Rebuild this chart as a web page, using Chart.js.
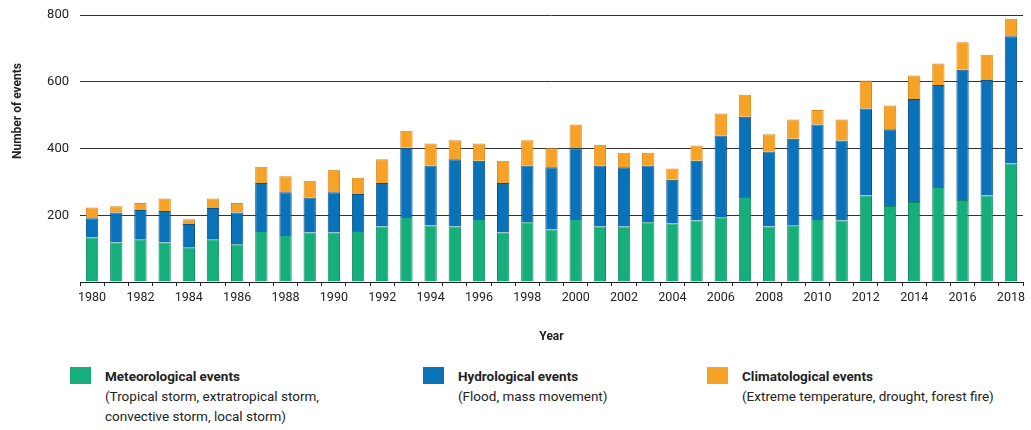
<!DOCTYPE html>
<html>
<head>
<meta charset="utf-8">
<script src="https://cdn.jsdelivr.net/npm/chart.js@4/dist/chart.umd.min.js"></script>
<style>
  body { margin: 0; background: #fff; font-family: Roboto, "Liberation Sans", sans-serif; color: #222; }
  #wrap { position: relative; width: 1031px; height: 430px; }
  #chart-box { position: absolute; left: 0; top: 0; width: 1031px; height: 350px; }
  .leg { position: absolute; top: 366px; }
  .leg .sw { position: absolute; left: 0; top: 1px; width: 21px; height: 17px; }
  .leg .txt { position: absolute; left: 35px; top: 0; white-space: nowrap; font-size: 13.5px; line-height: 20px; }
  .leg .txt b { font-weight: 700; }
</style>
</head>
<body>
<div id="wrap">
  <div id="chart-box"><canvas id="bar-chart" width="1031" height="350"></canvas></div>
  <div id="legend"></div>
</div>
<script>
// Years on the x axis
var years = ["1980", "1981", "1982", "1983", "1984", "1985", "1986", "1987", "1988", "1989",
    "1990", "1991", "1992", "1993", "1994", "1995", "1996", "1997", "1998", "1999",
    "2000", "2001", "2002", "2003", "2004", "2005", "2006", "2007", "2008", "2009",
    "2010", "2011", "2012", "2013", "2014", "2015", "2016", "2017", "2018"];

// Number of events per year, by type
var meteorological = [133, 118, 128, 118, 104, 128, 113, 153, 141, 148,
    148, 153, 166, 195, 169, 166, 189, 148, 179, 157,
    189, 166, 166, 179, 175, 184, 194, 255, 166, 170,
    189, 184, 259, 228, 240, 285, 246, 259, 355];

var hydrological = [58, 90, 88, 95, 70, 94, 95, 144, 128, 105,
    121, 111, 131, 207, 180, 202, 174, 149, 170, 187,
    212, 183, 178, 170, 131, 179, 245, 240, 225, 259,
    283, 240, 261, 230, 308, 305, 390, 346, 381];

var climatological = [32, 19, 21, 37, 14, 28, 29, 48, 48, 50,
    67, 48, 71, 51, 66, 57, 52, 66, 76, 57,
    71, 62, 43, 38, 34, 46, 66, 66, 52, 58,
    43, 63, 84, 71, 71, 65, 82, 76, 53];

var yTicks = [0, 200, 400, 600, 800];

var seriesNames = ["Meteorological events", "Hydrological events", "Climatological events"];
var seriesNotes = [
    ["(Tropical storm, extratropical storm,", "convective storm, local storm)"],
    ["(Flood, mass movement)"],
    ["(Extreme temperature, drought, forest fire)"]
];
var seriesColors = ["#16ae7b", "#0a72b8", "#f5a226"];
var seriesBorders = ["#0f8a60", "#0a4f86", "#d98a1a"];
var legendLeft = [70, 423, 707];

var fontFamily = "Roboto, 'Liberation Sans', sans-serif";

// y axis title sits a bit above the middle in the original
var yTitlePlugin = {
    id: "yTitle",
    afterDraw: function (chart) {
        var ctx = chart.ctx;
        ctx.save();
        ctx.translate(18, 111);
        ctx.rotate(-Math.PI / 2);
        ctx.font = "bold 12px " + fontFamily;
        ctx.fillStyle = "#222";
        ctx.textAlign = "center";
        ctx.textBaseline = "middle";
        ctx.fillText("Number of events", 0, 0);
        ctx.restore();
    }
};

var datasets = [meteorological, hydrological, climatological].map(function (vals, i) {
    return {
        label: seriesNames[i],
        data: vals,
        backgroundColor: seriesColors[i],
        borderColor: seriesBorders[i],
        borderWidth: 1,
        barPercentage: 0.51,
        categoryPercentage: 1.0
    };
});

var barChart = new Chart(document.getElementById("bar-chart").getContext("2d"), {
    type: "bar",
    data: {
        labels: years,
        datasets: datasets
    },
    options: {
        responsive: false,
        animation: false,
        layout: {
            padding: { top: 15, right: 8, left: 0, bottom: 0 }
        },
        plugins: {
            legend: { display: false },
            tooltip: { enabled: false }
        },
        scales: {
            x: {
                stacked: true,
                afterFit: function (scale) { scale.height = 68; },
                grid: {
                    drawOnChartArea: false,
                    drawTicks: true,
                    tickLength: 4,
                    color: "#222",
                    offset: true
                },
                border: { display: true, color: "#222", width: 1 },
                ticks: {
                    autoSkip: false,
                    maxRotation: 0,
                    padding: 4,
                    color: "#222",
                    font: { family: fontFamily, size: 12.5 },
                    callback: function (value, index) {
                        return index % 2 === 0 ? years[index] : "";
                    }
                },
                title: {
                    display: true,
                    text: "Year",
                    color: "#222",
                    font: { family: fontFamily, size: 12, weight: "bold" },
                    padding: { top: 0, bottom: 6 }
                }
            },
            y: {
                stacked: true,
                min: yTicks[0],
                max: yTicks[yTicks.length - 1],
                afterFit: function (scale) {
                    scale.width = 80;
                    scale.paddingTop = 0;
                },
                grid: {
                    drawTicks: false,
                    color: function (c) {
                        return c.tick.value === 0 ? "rgba(0,0,0,0)" : "#333";
                    },
                    lineWidth: 1
                },
                border: { display: false },
                ticks: {
                    stepSize: 200,
                    padding: 11,
                    color: "#222",
                    font: { family: fontFamily, size: 13, lineHeight: 1 },
                    callback: function (value) {
                        return value === 0 ? "" : value;
                    }
                }
            }
        }
    },
    plugins: [yTitlePlugin]
});

// Legend with descriptions, drawn as HTML under the chart
var legendBox = document.getElementById("legend");
seriesNames.forEach(function (name, i) {
    var item = document.createElement("div");
    item.className = "leg";
    item.style.left = legendLeft[i] + "px";
    var lines = "<b>" + name + "</b>";
    seriesNotes[i].forEach(function (line) {
        lines += "<br>" + line;
    });
    item.innerHTML = '<div class="sw" style="background:' + seriesColors[i] + '"></div>' +
        '<div class="txt">' + lines + "</div>";
    legendBox.appendChild(item);
});
</script>
</body>
</html>
